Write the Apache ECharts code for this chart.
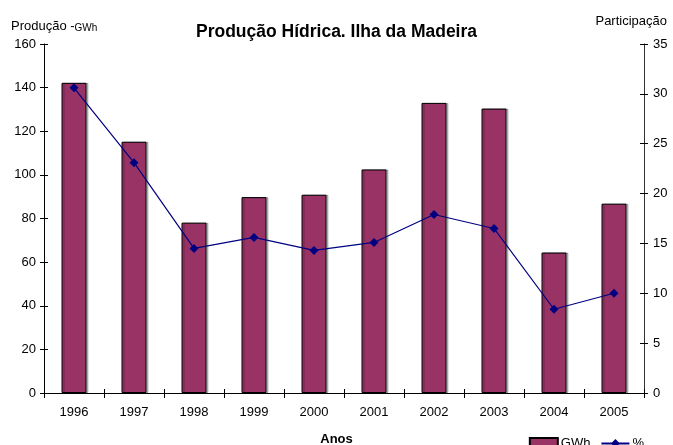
<!DOCTYPE html>
<html><head><meta charset="utf-8">
<script src="https://cdn.jsdelivr.net/npm/echarts@6/dist/echarts.min.js"></script>
<style>html,body{margin:0;padding:0;background:#fff}#c{width:673px;height:445px}</style>
</head><body><div id="c"></div>
<script>
var years = ['1996','1997','1998','1999','2000','2001','2002','2003','2004','2005'];
var gwh = [142.2, 115.2, 78.1, 89.8, 90.9, 102.5, 133.0, 130.4, 64.4, 86.8];
var pct = [30.6, 23.1, 14.5, 15.6, 14.3, 15.1, 17.9, 16.5, 8.4, 10.0];
var leftTicks = {min: 0, max: 160, interval: 20};
var rightTicks = {min: 0, max: 35, interval: 5};

var F = 'Liberation Sans, Arial, sans-serif';
var chart = echarts.init(document.getElementById('c'));
function yAx(pos, t, inside, show) {
  return {
    type: 'value', position: pos, min: t.min, max: t.max, interval: t.interval,
    axisLine: {show: show, lineStyle: {color: pos === 'left' ? '#000' : '#333', width: 1}},
    axisTick: {show: true, inside: inside, length: 4, lineStyle: {color: '#000'}},
    axisLabel: {show: show, color: '#000', fontFamily: F, fontSize: 13, margin: pos === 'left' ? 8 : 9},
    splitLine: {show: false}
  };
}
function xAx(inside, show) {
  return {
    type: 'category', position: 'bottom', data: years, boundaryGap: true,
    axisLine: {show: show, lineStyle: {color: '#000', width: 1}},
    axisTick: {show: true, inside: inside, length: inside ? 4 : 5, interval: 0, lineStyle: {color: '#000'}},
    axisLabel: {show: show, color: '#000', fontFamily: F, fontSize: 13, margin: 13},
    splitLine: {show: false}
  };
}
chart.setOption({
  animation: false,
  textStyle: {fontFamily: F},
  grid: {left: 44, right: 29, top: 44, bottom: 52, containLabel: false},
  title: [
    {text: 'Produção Hídrica. Ilha da Madeira', left: 'center', top: 18,
     textStyle: {fontFamily: F, fontSize: 17.5, fontWeight: 'bold', color: '#000'}},
    {text: 'Produção -{s|GWh}', left: 6, top: 15,
     textStyle: {fontFamily: F, fontSize: 13, fontWeight: 'normal', color: '#000',
       rich: {s: {fontFamily: F, fontSize: 10, color: '#000', verticalAlign: 'bottom', padding: [3,0,0,0]}}}},
    {text: 'Participação', right: 1, top: 10,
     textStyle: {fontFamily: F, fontSize: 13, fontWeight: 'normal', color: '#000'}},
    {text: 'Anos', left: 'center', top: 428,
     textStyle: {fontFamily: F, fontSize: 13, fontWeight: 'bold', color: '#000'}}
  ],
  legend: {
    right: 24, top: 432, itemGap: 10, itemWidth: 28, itemHeight: 11,
    textStyle: {fontFamily: F, fontSize: 13, color: '#000', padding: [0,0,0,-2]},
    data: [{name: 'GWh', icon: 'rect'}, {name: '%'}]
  },
  xAxis: [xAx(false, true), xAx(true, false)],
  yAxis: [yAx('left', leftTicks, false, true), yAx('right', rightTicks, false, true),
          yAx('left', leftTicks, true, false), yAx('right', rightTicks, true, false)],
  series: [
    {name: 'GWh', type: 'bar', data: gwh, xAxisIndex: 0, yAxisIndex: 0, barWidth: 25,
     itemStyle: {color: '#993366', borderColor: '#000', borderWidth: 1,
       shadowColor: 'rgba(0,0,0,0.25)', shadowOffsetX: 2, shadowOffsetY: 0, shadowBlur: 0}},
    {name: '%', type: 'line', data: pct, xAxisIndex: 0, yAxisIndex: 1,
     symbol: 'diamond', symbolSize: 9,
     lineStyle: {color: '#000080', width: 1.2},
     itemStyle: {color: '#000080'}}
  ]
});
</script></body></html>
